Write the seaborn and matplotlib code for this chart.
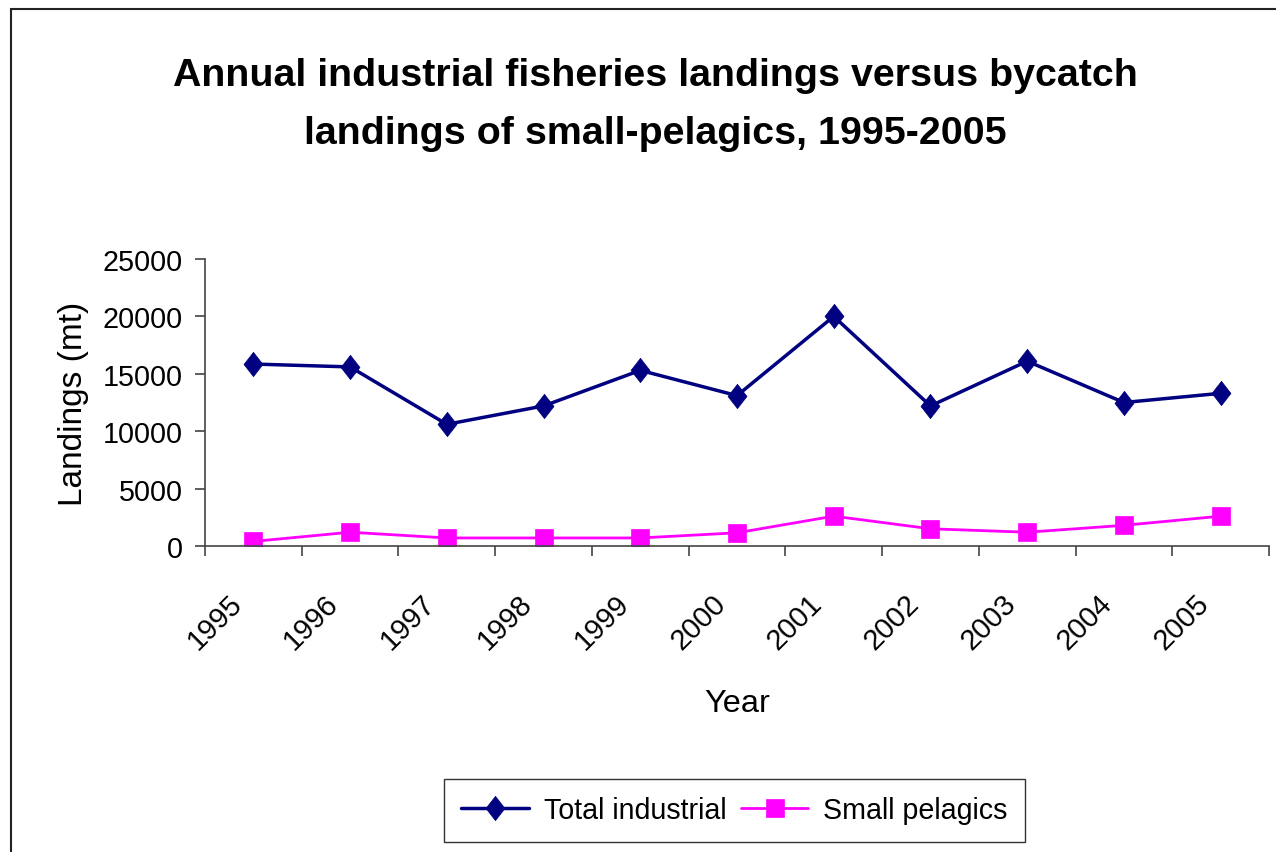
import numpy as np
import pandas as pd
import matplotlib
matplotlib.use("Agg")
import matplotlib.pyplot as plt
import seaborn as sns
from matplotlib.patches import Rectangle
from matplotlib.transforms import ScaledTranslation

# Annual landings (mt)
years = [1995, 1996, 1997, 1998, 1999, 2000, 2001, 2002, 2003, 2004, 2005]
total_industrial = [15850, 15600, 10600, 12200, 15300, 13100, 20000, 12200, 16100, 12500, 13300]
small_pelagics = [400, 1200, 700, 700, 700, 1150, 2600, 1500, 1200, 1800, 2600]

series_names = ["Total industrial", "Small pelagics"]
series_colors = ["#000080", "#FF00FF"]
y_ticks = [0, 5000, 10000, 15000, 20000, 25000]
title_text = ("Annual industrial fisheries landings versus bycatch\n"
              "landings of small-pelagics, 1995-2005")

sns.set_theme(style="white")
plt.rcParams["font.family"] = ["Liberation Sans", "DejaVu Sans"]
plt.rcParams.update({
    "text.color": "black", "axes.labelcolor": "black",
    "xtick.color": "black", "ytick.color": "black",
})

df = pd.DataFrame({
    "Year": years + years,
    "Landings": total_industrial + small_pelagics,
    "Series": [series_names[0]] * len(years) + [series_names[1]] * len(years),
})

W, H = 1276, 853
fig = plt.figure(figsize=(W / 100, H / 100), dpi=100)
fig.patch.set_facecolor("white")

# outer chart frame
fig.add_artist(Rectangle((11 / W, -0.1), 1.2, 1.1 - 10 / H, transform=fig.transFigure,
                         fill=False, edgecolor="#222222", linewidth=1.5, clip_on=False))

ax = fig.add_axes([205 / W, 1 - 547 / H, 1064 / W, 287 / H])

tall_diamond = [(0, 1), (0.78, 0), (0, -1), (-0.78, 0), (0, 1)]
sns.lineplot(
    data=df, x="Year", y="Landings", hue="Series", style="Series",
    palette=dict(zip(series_names, series_colors)),
    markers={series_names[0]: tall_diamond, series_names[1]: "s"},
    dashes=False, errorbar=None, legend=False, ax=ax,
)

line_widths = [2.5, 2.0]
marker_sizes = [17.5, 12.5]
for line, lw, ms in zip(ax.lines[:2], line_widths, marker_sizes):
    line.set_linewidth(lw)
    line.set_markersize(ms)
    line.set_markeredgecolor(line.get_color())
    line.set_markeredgewidth(0.5)

ax.set_xlim(1994.5, 2005.5)
ax.set_ylim(0, 25000)
ax.set_yticks(y_ticks)
ax.set_yticklabels([str(v) for v in y_ticks])

# tick marks between categories, labels centred on each year
ax.set_xticks(np.arange(years[0] - 0.5, years[-1] + 1.0, 1.0))
ax.set_xticklabels([])
ax.set_xticks(years, minor=True)
ax.set_xticklabels([str(y) for y in years], minor=True, rotation=45, ha="right", va="top")
ax.tick_params(axis="x", which="major", direction="out", length=7, width=1.2,
               color="#444444", bottom=True)
ax.tick_params(axis="x", which="minor", length=0, pad=31, labelsize=21, bottom=True)
ax.tick_params(axis="y", direction="out", length=7, width=1.2, color="#444444",
               pad=9, labelsize=20.7, left=True)
shift = ScaledTranslation(-6 / 100, 0, fig.dpi_scale_trans)
for lbl in ax.get_xticklabels(minor=True):
    lbl.set_transform(lbl.get_transform() + shift)

sns.despine(ax=ax)
for side in ("left", "bottom"):
    ax.spines[side].set_color("#444444")
    ax.spines[side].set_linewidth(1.2)

ax.set_ylabel("Landings (mt)", fontsize=24)
ax.yaxis.set_label_coords(-0.109, 0.5)
ax.set_xlabel("Year", fontsize=23.4)
ax.xaxis.set_label_coords(0.5, -0.495)

fig.text(655 / W, 1 - 58 / H, title_text, ha="center", va="top", fontsize=28.4,
         fontweight="bold", linespacing=1.78)

leg = fig.legend(ax.lines[:2], series_names, loc="center",
                 bbox_to_anchor=(734.5 / W, 1 - 811.5 / H), ncol=2,
                 frameon=True, fancybox=False, edgecolor="black",
                 prop={"size": 20.6},
                 handlelength=2.35, handletextpad=0.52, columnspacing=0.52,
                 borderpad=0.6, borderaxespad=0)
leg.get_frame().set_linewidth(1.0)

fig.savefig("out.png", dpi=100, facecolor="white")
